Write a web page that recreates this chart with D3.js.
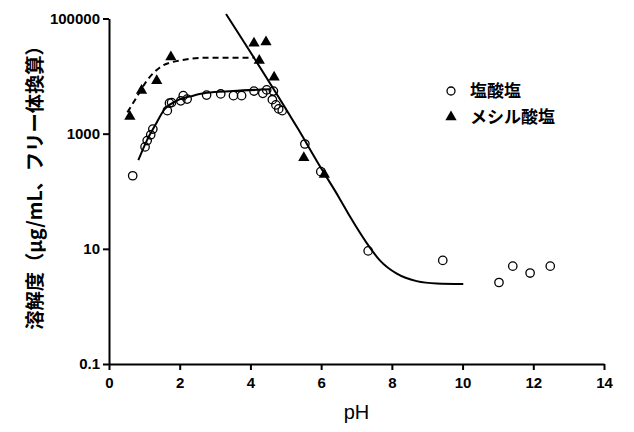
<!DOCTYPE html>
<html>
<head>
<meta charset="utf-8">
<script src="https://cdn.jsdelivr.net/npm/d3@7"></script>
<style>
  body { margin: 0; background: #fff; }
  .tick text { font-family: "Liberation Sans", Arial, sans-serif; font-weight: bold; font-size: 15px; fill: #000; }
  .jp { font-family: "Noto Sans CJK JP", sans-serif; font-weight: bold; fill: #000; }
</style>
</head>
<body>
<svg id="chart"></svg>
<script>

const width = 634;
const height = 432;

// 塩酸塩 (open circles)
const hclPH  = [0.67, 1.02, 1.08, 1.18, 1.24, 1.65, 1.71, 1.77, 2.03, 2.10, 2.21, 2.76, 3.16, 3.52, 3.75,
                4.10, 4.35, 4.46, 4.65, 4.62, 4.72, 4.80, 4.90, 5.54, 5.99, 7.33, 9.44, 11.03, 11.42, 11.91, 12.48];
const hclSol = [186, 589, 759, 955, 1202, 2512, 3388, 3467, 3715, 4571, 3981, 4677, 4898, 4571, 4571,
                5495, 5012, 5754, 5495, 3890, 3162, 2692, 2512, 661, 219, 9.2, 6.3, 2.6, 5.0, 3.8, 5.0];

// メシル酸塩 (filled triangles)
const mesPH  = [0.59, 0.92, 1.35, 1.75, 4.10, 4.44, 4.25, 4.67, 5.51, 6.09];
const mesSol = [1995, 5623, 8318, 21380, 37150, 38900, 18620, 9550, 380, 195];

// fitted curves
const hclFitPH  = [0.83, 1.07, 1.30, 1.58, 1.91, 2.38, 2.76, 3.50, 4.55];
const hclFitSol = [347, 759, 1380, 2690, 3715, 4571, 5129, 5500, 5900];

const mesFitPH  = [0.52, 0.78, 1.07, 1.44, 1.91, 2.86, 4.13];
const mesFitSol = [2344, 4266, 8318, 14125, 18200, 20900, 20900];

const baseFitPH  = [3.31, 5.35, 6.00, 6.50, 6.82, 7.29, 7.66, 8.14, 8.70, 9.27, 10.02];
const baseFitSol = [120000, 1200, 251, 79, 36, 12.6, 6.3, 3.7, 2.75, 2.5, 2.45];

const xTicks = [0, 2, 4, 6, 8, 10, 12, 14];
const yTicks = [0.1, 10, 1000, 100000];

const svg = d3.select("#chart")
    .attr("width", width)
    .attr("height", height);

const x = d3.scaleLinear().domain([0, 14]).range([109, 604]);
const y = d3.scaleLog().domain([0.1, 100000]).range([364, 18.5]);

// axes
const xAxis = svg.append("g")
    .attr("transform", `translate(0,${y(0.1)})`)
    .call(d3.axisBottom(x).tickValues(xTicks).tickSize(6).tickSizeOuter(0).tickPadding(7));

const yAxis = svg.append("g")
    .attr("transform", `translate(${x(0)},0)`)
    .call(d3.axisLeft(y).tickValues(yTicks).tickSize(6).tickSizeOuter(0).tickPadding(3));

yAxis.selectAll(".tick text").text(d => d >= 1 ? String(d) : "0.1");

svg.selectAll(".domain, .tick line")
    .attr("stroke", "#000")
    .attr("stroke-width", 2);

// axis titles
svg.append("text")
    .attr("x", (x(0) + x(14)) / 2)
    .attr("y", 419)
    .attr("text-anchor", "middle")
    .style("font-family", "'Liberation Sans', Arial, sans-serif")
    .style("font-size", "20px")
    .text("pH");

svg.append("text")
    .attr("class", "jp")
    .attr("transform", "translate(42,183) rotate(-90)")
    .attr("text-anchor", "middle")
    .style("font-size", "19.3px")
    .text("溶解度（μg/mL、フリー体換算）");

// curves
const line = d3.line()
    .x(d => x(d[0]))
    .y(d => y(d[1]))
    .curve(d3.curveMonotoneX);

svg.append("path")
    .datum(d3.zip(hclFitPH, hclFitSol))
    .attr("d", line)
    .attr("fill", "none")
    .attr("stroke", "#000")
    .attr("stroke-width", 2);

svg.append("path")
    .datum(d3.zip(mesFitPH, mesFitSol))
    .attr("d", line)
    .attr("fill", "none")
    .attr("stroke", "#000")
    .attr("stroke-width", 2)
    .attr("stroke-dasharray", "6,4");

svg.append("path")
    .datum(d3.zip(baseFitPH, baseFitSol))
    .attr("d", line)
    .attr("fill", "none")
    .attr("stroke", "#000")
    .attr("stroke-width", 2);

// points
const tri = d3.symbol().type(d3.symbolTriangle).size(55);

svg.append("g").selectAll("circle")
    .data(d3.zip(hclPH, hclSol))
    .enter().append("circle")
    .attr("cx", d => x(d[0]))
    .attr("cy", d => y(d[1]))
    .attr("r", 4.2)
    .attr("fill", "none")
    .attr("stroke", "#000")
    .attr("stroke-width", 1.3);

svg.append("g").selectAll("path")
    .data(d3.zip(mesPH, mesSol))
    .enter().append("path")
    .attr("d", tri)
    .attr("transform", d => `translate(${x(d[0])},${y(d[1])})`)
    .attr("fill", "#000");

// legend
const legend = svg.append("g").attr("transform", "translate(451,91)");

legend.append("circle")
    .attr("r", 4)
    .attr("fill", "none")
    .attr("stroke", "#000")
    .attr("stroke-width", 1.3);

legend.append("text")
    .attr("class", "jp")
    .attr("x", 19)
    .attr("y", 6)
    .style("font-size", "17px")
    .text("塩酸塩");

legend.append("path")
    .attr("d", tri)
    .attr("transform", "translate(0,26)")
    .attr("fill", "#000");

legend.append("text")
    .attr("class", "jp")
    .attr("x", 19)
    .attr("y", 32)
    .style("font-size", "17px")
    .text("メシル酸塩");

</script>
</body>
</html>
